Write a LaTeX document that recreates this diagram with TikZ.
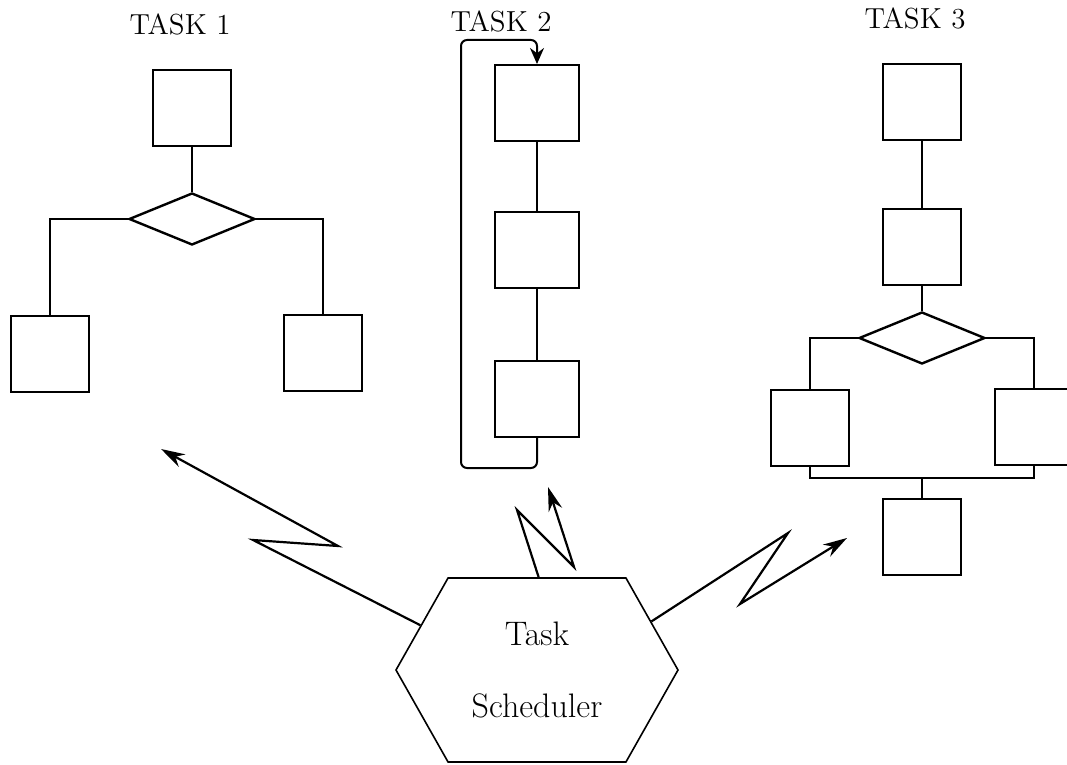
\documentclass[tikz,border=0pt]{standalone}
\usepackage{tikz}
\usetikzlibrary{shapes.geometric, shapes.symbols, arrows.meta}
\tikzstyle{wire}    = [line width=1pt]
\tikzstyle{blk}     = [draw, line width=1pt, minimum width=39pt, minimum height=38pt, inner sep=0pt]
\tikzstyle{dec}     = [draw, diamond, line width=1.2pt, minimum width=63pt, minimum height=26pt, inner sep=0pt]
\tikzstyle{bolt}    = [line width=1.1pt, -{Stealth[length=12pt,width=7pt]}]
\tikzstyle{tasklbl} = [font=\fontsize{14.5}{17}\selectfont]

\begin{document}
\begin{tikzpicture}[x=0.5pt, y=-0.5pt]
  \useasboundingbox (0,0) rectangle (1067,765);

  %task 1: one box, a decision, two branches
  \node[tasklbl] (h1) at (180,24) {TASK 1};
  \node[blk] (t1a) at (192,108) {};
  \node[dec] (t1d) at (192,219) {};
  \node[blk] (t1l) at (50,354) {};
  \node[blk] (t1r) at (323,353) {};
  \draw[wire] (t1a) -- (t1d);
  \draw[wire] (t1d.west) -| (t1l.north);
  \draw[wire] (t1d.east) -| (t1r.north);

  %task 2: three boxes in a row with a loop back
  \node[tasklbl] (h2) at (501,21) {TASK 2};
  \foreach \y[count=\i] in {103,250,399}{
    \node[blk, minimum width=42pt] (t2\i) at (537,\y) {};
  }
  \draw[wire] (t21) -- (t22) -- (t23);
  \coordinate (lp1) at (461,468);
  \coordinate (lp2) at (461,40);
  \draw[wire, rounded corners=3pt, -{Stealth[length=8pt,width=7pt]}]
    (t23.south) |- (lp1) -- (lp2) -| (t21.north);

  %task 3: two boxes, a decision, two branches joined again
  \node[tasklbl] (h3) at (915,18) {TASK 3};
  \node[blk] (t3a) at (922,102) {};
  \node[blk] (t3b) at (922,247) {};
  \node[dec] (t3d) at (922,338) {};
  \node[blk] (t3l) at (810,428) {};
  \node[blk] (t3r) at (1034,427) {};
  \node[blk] (t3e) at (922,537) {};
  \coordinate (t3j) at (922,478);
  \draw[wire] (t3a) -- (t3b) -- (t3d);
  \draw[wire] (t3d.west) -| (t3l.north);
  \draw[wire] (t3d.east) -| (t3r.north);
  \draw[wire] (t3l.south) |- (t3j) -| (t3r.south);
  \draw[wire] (t3j) -- (t3e);

  %the scheduler
  \node[draw, signal, signal to=west and east, signal pointer angle=121,
        minimum width=141pt, minimum height=92pt, line width=0.8pt,
        align=center, font=\fontsize{17}{20}\selectfont] (sched) at (537,670)
        {Task\\[16pt]Scheduler};

  %lightning arrows to the tasks
  \coordinate (b1a) at (253,540);
  \coordinate (b1b) at (338,546);
  \coordinate (b1c) at (161,449);
  \draw[bolt] (sched.159) -- (b1a) -- (b1b) -- (b1c);
  \coordinate (b2a) at (517,510);
  \coordinate (b2b) at (574,567);
  \coordinate (b2c) at (548,487);
  \draw[bolt] (sched.89) -- (b2a) -- (b2b) -- (b2c);
  \coordinate (b3a) at (788,533);
  \coordinate (b3b) at (740,604);
  \coordinate (b3c) at (847,538);
  \draw[bolt] (sched.23) -- (b3a) -- (b3b) -- (b3c);
\end{tikzpicture}
\end{document}
